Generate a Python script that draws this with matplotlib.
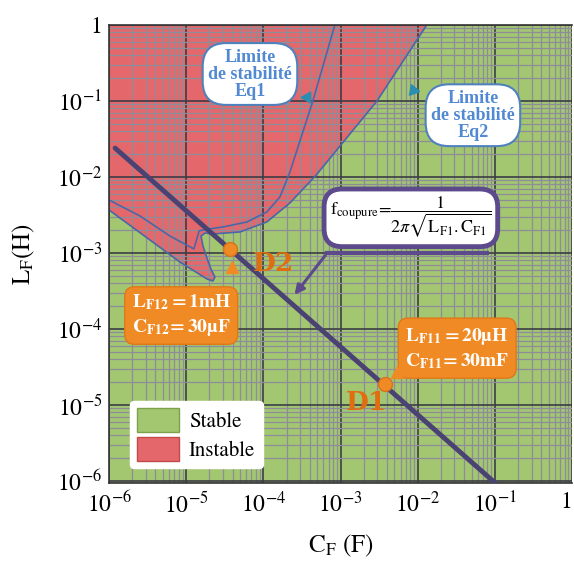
import numpy as np
import matplotlib.pyplot as plt
from matplotlib.patches import Patch

plt.rcParams['mathtext.fontset'] = 'stix'
plt.rcParams['font.family'] = ['STIXGeneral', 'DejaVu Serif']

# axes ticks
x_ticks = [1e-6, 1e-5, 1e-4, 1e-3, 1e-2, 1e-1, 1]
x_labels = [r'10$^{-6}$', r'10$^{-5}$', r'10$^{-4}$', r'10$^{-3}$', r'10$^{-2}$', r'10$^{-1}$', '1']
y_ticks = [1e-6, 1e-5, 1e-4, 1e-3, 1e-2, 1e-1, 1]
y_labels = [r'10$^{-6}$', r'10$^{-5}$', r'10$^{-4}$', r'10$^{-3}$', r'10$^{-2}$', r'10$^{-1}$', '1']

# limite de stabilite Eq2 (frontiere rouge / vert), du haut vers la languette puis vers le bord gauche
eq2_C = [1.31e-2, 2.97e-3, 4.8e-4, 2.21e-4, 1.11e-4, 4.98e-5, 2.22e-5, 1.75e-5, 1.56e-5,
         1.65e-5, 1.86e-5, 2.09e-5, 2.36e-5, 2.22e-5, 1.86e-5, 8.3e-6, 3.4e-6, 1.0e-6]
eq2_L = [1.0, 0.1, 1.05e-2, 4.55e-3, 2.56e-3, 1.89e-3, 1.78e-3, 1.83e-3, 1.67e-3,
         1.24e-3, 8.6e-4, 6.16e-4, 4.83e-4, 4.28e-4, 4.55e-4, 7.6e-4, 1.48e-3, 3.68e-3]

# limite de stabilite Eq1
eq1_C = [8.45e-4, 4.38e-4, 2.21e-4, 1.64e-4, 1.11e-4, 6.14e-5, 3.0e-5, 1.65e-5, 1.47e-5,
         1.34e-5, 1.26e-5, 6.17e-6, 2.52e-6, 1.0e-6]
eq1_L = [1.0, 0.1, 1.16e-2, 5.46e-3, 3.46e-3, 2.56e-3, 2.2e-3, 2.01e-3, 1.95e-3,
         1.40e-3, 1.13e-3, 1.67e-3, 3.07e-3, 4.98e-3]

# droite f_coupure constante
fc_C = [1.2e-6, 0.1]
fc_L = [2.4e-2, 9.5e-7]

# points de dimensionnement D2, D1
d_names = ['D2', 'D1']
d_C = [3.69e-5, 3.76e-3]
d_L = [1.13e-3, 1.89e-5]

green = '#a3c771'
red = '#e4686b'
blue_line = '#4a67a8'
purple = '#5d4a8c'
orange = '#f08a24'

fig = plt.figure(figsize=(5.74, 5.61), dpi=100)
ax = fig.add_axes([109 / 574, 1 - 483 / 561, 463 / 574, 458 / 561])
ax.set_xscale('log')
ax.set_yscale('log')
ax.set_xlim(1e-6, 1)
ax.set_ylim(9.4e-7, 1)
ax.set_facecolor(green)

# zone instable
poly_C = np.r_[eq2_C, 1e-6, 1e-6]
poly_L = np.r_[eq2_L, 1.0, 1.0]
ax.fill(poly_C, poly_L, color=red, lw=0, zorder=1)

ax.grid(True, which='minor', color='#8e8c99', lw=0.9, zorder=1.5)
ax.grid(True, which='major', color='#3c3c46', lw=1.2, zorder=1.6)

ax.plot(eq2_C, eq2_L, color=blue_line, lw=1.2, zorder=2)
ax.plot(eq1_C, eq1_L, color=blue_line, lw=1.2, zorder=2)

ax.plot(fc_C, fc_L, color='#4a4272', lw=3.5, solid_capstyle='round', zorder=3)
ax.plot(d_C, d_L, 'o', ms=10, color=orange, mec='#d8731a', zorder=4)

ax.set_xticks(x_ticks)
ax.set_xticklabels(x_labels)
ax.set_yticks(y_ticks)
ax.set_yticklabels(y_labels)
ax.tick_params(which='both', length=0, labelsize=17)
ax.tick_params(axis='x', pad=6)
ax.tick_params(axis='y', pad=5)
ax.get_xticklabels()[-1].set_ha('right')
for s in ['left', 'bottom', 'top']:
    ax.spines[s].set_color('#333333')
    ax.spines[s].set_linewidth(1.2)
ax.spines['right'].set_visible(False)

ax.set_xlabel(r'C$_\mathrm{F}$ (F)', fontsize=18, labelpad=11)
ax.set_ylabel(r'L$_\mathrm{F}$(H)', fontsize=18, labelpad=14)

# bulles "Limite de stabilite"
bub = dict(boxstyle='round,pad=0.3,rounding_size=1.3', fc='white', ec='#4f81bd', lw=1.5)
ax.text(0.3045, 0.893, 'Limite\nde stabilité\nEq1', transform=ax.transAxes, ha='center', va='center',
        fontsize=13, fontweight='bold', family='Liberation Serif', color='#5189d2',
        linespacing=1.0, bbox=bub, zorder=6)
ax.text(0.786, 0.803, 'Limite\nde stabilité\nEq2', transform=ax.transAxes, ha='center', va='center',
        fontsize=13, fontweight='bold', family='Liberation Serif', color='#5189d2',
        linespacing=1.0, bbox=bub, zorder=6)
ax.plot([0.4276], [0.843], marker=(3, 0, -30), ms=9, color='#2a8db2', transform=ax.transAxes, zorder=6)
ax.plot([0.6566], [0.858], marker=(3, 0, 20), ms=9, color='#2a8db2', transform=ax.transAxes, zorder=6)

# formule f_coupure
ax.text(0.652, 0.579, r'$\mathrm{f}_{\mathrm{coupure}}\!=\!\dfrac{1}{2\pi\sqrt{\mathrm{L}_{\mathrm{F1}}.\mathrm{C}_{\mathrm{F1}}}}$',
        transform=ax.transAxes, ha='center', va='center', fontsize=13,
        bbox=dict(boxstyle='round,pad=0.35,rounding_size=1.0', fc='white', ec=purple, lw=3.5), zorder=6)
ax.plot([0.471, 0.816], [0.502, 0.502], color=purple, lw=3, transform=ax.transAxes, zorder=5)
ax.annotate('', xy=(0.397, 0.406), xytext=(0.471, 0.502), xycoords='axes fraction',
            arrowprops=dict(arrowstyle='-|>', color=purple, lw=2.2, mutation_scale=14), zorder=5)

# etiquettes D1 / D2
obox = dict(boxstyle='round,pad=0.35,rounding_size=0.5', fc=orange, ec='#e07818', lw=1)
ax.text(0.156, 0.367, r'$\mathbf{L_{F12}=1mH}$' + '\n' + r'$\mathbf{C_{F12}\!=30µF}$', transform=ax.transAxes,
        ha='center', va='center', fontsize=14, color='white', linespacing=1.3, bbox=obox, zorder=6)
ax.text(0.752, 0.293, r'$\mathbf{L_{F11}=20µH}$' + '\n' + r'$\mathbf{C_{F11}\!=30mF}$', transform=ax.transAxes,
        ha='center', va='center', fontsize=14, color='white', linespacing=1.3, bbox=obox, zorder=6)
ax.plot([0.2657, 0.622], [0.4716, 0.2424], '^', ms=8, color=orange, transform=ax.transAxes, zorder=6)
ax.text(0.356, 0.480, d_names[0], transform=ax.transAxes, ha='center', va='center', fontsize=19,
        fontweight='bold', family='DejaVu Serif', color='#e06d10', zorder=6)
ax.text(0.555, 0.175, d_names[1], transform=ax.transAxes, ha='center', va='center', fontsize=19,
        fontweight='bold', family='DejaVu Serif', color='#e06d10', zorder=6)

handles = [Patch(fc=green, ec='#7ea24c', label='Stable'), Patch(fc=red, ec='#c44a4a', label='Instable')]
leg = ax.legend(handles=handles, loc='lower left', bbox_to_anchor=(0.022, 0.01), fontsize=15,
                handlelength=2.0, handleheight=1.4, frameon=True, fancybox=True, framealpha=1,
                edgecolor='white', borderpad=0.35, labelspacing=0.2, handletextpad=0.5)
leg.set_zorder(7)

fig.savefig('out.png', dpi=100)
